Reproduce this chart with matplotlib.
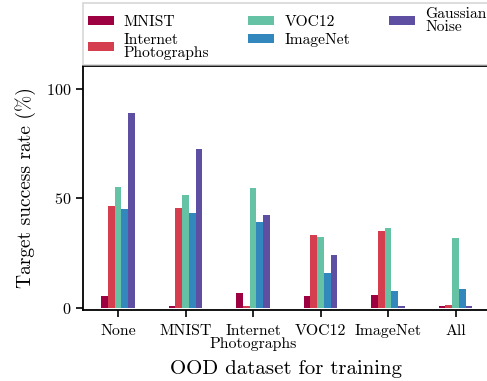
import matplotlib
matplotlib.use("Agg")
import matplotlib.pyplot as plt
import numpy as np

plt.rcParams['font.family'] = ['cmr10', 'DejaVu Serif']
plt.rcParams['axes.formatter.use_mathtext'] = True
plt.rcParams['mathtext.fontset'] = 'cm'

groups = ["None", "MNIST", "Internet\nPhotographs", "VOC12", "ImageNet", "All"]
series_names = ["MNIST", "Internet\nPhotographs", "VOC12", "ImageNet", "Gaussian\nNoise"]
colors = ["#9e0142", "#d53e4f", "#66c2a5", "#3288bd", "#5e4fa2"]

mnist    = [5.5, 1.0, 6.8, 5.5, 5.9, 1.0]
internet = [46.6, 45.7, 1.0, 33.3, 35.2, 1.4]
voc12    = [55.3, 51.6, 54.8, 32.4, 36.5, 32.0]
imagenet = [45.2, 43.4, 39.3, 16.0, 7.8, 8.7]
gaussian = [89.0, 72.6, 42.5, 24.2, 1.0, 1.0]
values = [mnist, internet, voc12, imagenet, gaussian]

fig = plt.figure(figsize=(4.87, 3.81), dpi=100)
ax = fig.add_axes([83/487, 1-310/381, (490-83)/487, (310-66)/381])

x = np.arange(len(groups))
w = 0.1
for i, (name, vals, c) in enumerate(zip(series_names, values, colors)):
    ax.bar(x + (i - 2) * w, vals, width=w, color=c, label=name)

ax.set_xlim(-0.52, 5.51)
ax.set_ylim(-1, 110.5)
ax.set_xticks(x)
ax.set_xticklabels(groups, fontsize=11.4, linespacing=0.95)
ax.set_yticks([0, 50, 100])
ax.tick_params(axis='y', labelsize=11.6, length=5, width=1.2)
ax.tick_params(axis='x', length=5, width=1.2, pad=5)
for s in ax.spines.values():
    s.set_linewidth(1.3)
ax.set_xlabel("OOD dataset for training", fontsize=15, labelpad=6.5)
ax.set_ylabel("Target success rate (%)", fontsize=14, labelpad=7)

leg = fig.legend(loc='upper left', bbox_to_anchor=(83/487, 1-3/381), ncol=3,
                 fontsize=11.2, frameon=True, fancybox=False,
                 handlelength=1.68, handleheight=0.55, handletextpad=0.65,
                 columnspacing=2.5, borderpad=0.3,
                 borderaxespad=0, labelspacing=0.25)
leg.get_frame().set_edgecolor('#cccccc')
leg.get_frame().set_linewidth(1.2)
for t in leg.get_texts():
    t.set_linespacing(0.92)

fig.savefig("out.png", dpi=100)
